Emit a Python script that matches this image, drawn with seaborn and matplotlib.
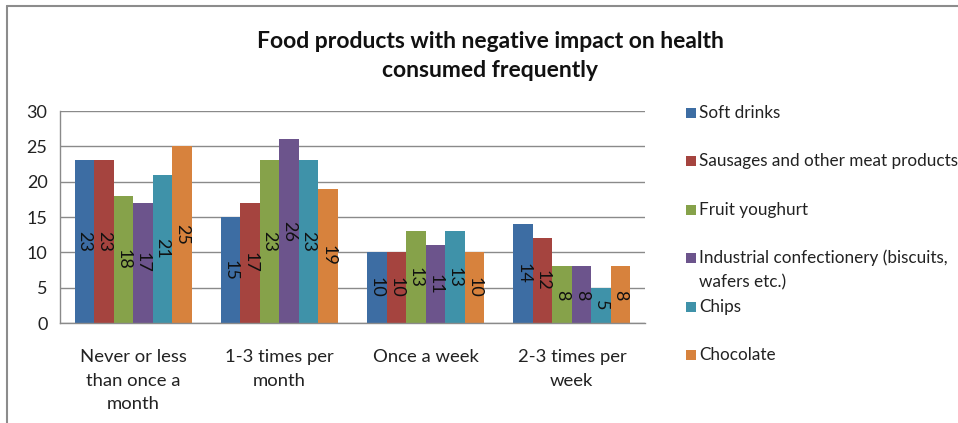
import matplotlib
matplotlib.use("Agg")
import matplotlib.pyplot as plt
import seaborn as sns
import pandas as pd
from matplotlib.patches import Rectangle
from matplotlib.lines import Line2D

categories = ["Never or less\nthan once a\nmonth", "1-3 times per\nmonth", "Once a week", "2-3 times per\nweek"]
series_names = ["Soft drinks", "Sausages and other meat products", "Fruit youghurt",
                "Industrial confectionery (biscuits,", "Chips", "Chocolate"]
legend_labels = ["Soft drinks", "Sausages and other meat products", "Fruit youghurt",
                 "Industrial confectionery (biscuits,\nwafers etc.)", "Chips", "Chocolate"]
soft_drinks = [23, 15, 10, 14]
sausages = [23, 17, 10, 12]
fruit_yoghurt = [18, 23, 13, 8]
industrial = [17, 26, 11, 8]
chips = [21, 23, 13, 5]
chocolate = [25, 19, 10, 8]
values = [soft_drinks, sausages, fruit_yoghurt, industrial, chips, chocolate]
colors = ["#3D6DA3", "#A5443F", "#86A24A", "#6C548C", "#3F92A9", "#D7823D"]
yticks = [0, 5, 10, 15, 20, 25, 30]
title = "Food products with negative impact on health\nconsumed frequently"

rows = []
for name, vals in zip(series_names, values):
    for cat, v in zip(categories, vals):
        rows.append({"category": cat, "series": name, "value": v})
df = pd.DataFrame(rows)

sns.set_theme(style="white")
plt.rcParams["font.family"] = ["Lato", "DejaVu Sans"]

fig = plt.figure(figsize=(9.58, 4.23), dpi=100)
ax = fig.add_axes([60/958, 1-323/423, (645-60)/958, (323-111)/423])

sns.barplot(data=df, x="category", y="value", hue="series", order=categories,
            hue_order=series_names, palette=colors, width=0.8, saturation=1,
            edgecolor="none", linewidth=0, ax=ax, legend=False)

for cont in ax.containers:
    ax.bar_label(cont, label_type="center", rotation=270, fontsize=13, color="#111111")

ax.set_ylim(0, 30)
ax.set_xlim(-0.5, 3.5)
ax.set_yticks(yticks)
ax.set_yticklabels([str(t) for t in yticks], fontsize=13, color="#222222")
ax.yaxis.grid(True, color="#8a8a8a", linewidth=1)
ax.set_axisbelow(True)
ax.set_xlabel("")
ax.set_ylabel("")
ax.tick_params(axis="x", which="major", length=0, labelsize=13.3, pad=19, labelcolor="#222222")
for lbl in ax.get_xticklabels():
    lbl.set_linespacing(1.55)
ax.set_xticks([-0.5, 0.5, 1.5, 2.5, 3.5], minor=True)
ax.tick_params(axis="x", which="minor", length=8, width=1, color="#8a8a8a", direction="out")
ax.tick_params(axis="y", length=5, width=1, color="#8a8a8a", direction="out", pad=4)
for s in ["top", "right"]:
    ax.spines[s].set_visible(False)
for s in ["left", "bottom"]:
    ax.spines[s].set_color("#8a8a8a")
    ax.spines[s].set_linewidth(1)

fig.text(490/958, 1-56/423, title, ha="center", va="center", fontsize=16.5,
         fontweight="bold", color="#111111", linespacing=1.5)

leg_fs = 12.3
leg_y = [113, 161, 210, 258, 307, 355]
for lab, col, y in zip(legend_labels, colors, leg_y):
    fig.patches.append(Rectangle((686/958, 1-(y+5)/423), 10/958, 10/423,
                                 transform=fig.transFigure, facecolor=col,
                                 edgecolor="none"))
    if "\n" in lab:
        first, second = lab.split("\n")
        fig.text(699/958, 1-y/423, first, ha="left", va="center", fontsize=leg_fs, color="#222222")
        fig.text(699/958, 1-(y+24)/423, second, ha="left", va="center", fontsize=leg_fs, color="#222222")
    else:
        fig.text(699/958, 1-y/423, lab, ha="left", va="center", fontsize=leg_fs, color="#222222")

fig.lines.append(Line2D([7/958, 7/958], [0, 1-6/423], transform=fig.transFigure,
                        color="#8c8c8c", linewidth=1.5))
fig.lines.append(Line2D([7/958, 1], [1-6/423, 1-6/423], transform=fig.transFigure,
                        color="#8c8c8c", linewidth=1.5))

fig.savefig("out.png", dpi=100)
